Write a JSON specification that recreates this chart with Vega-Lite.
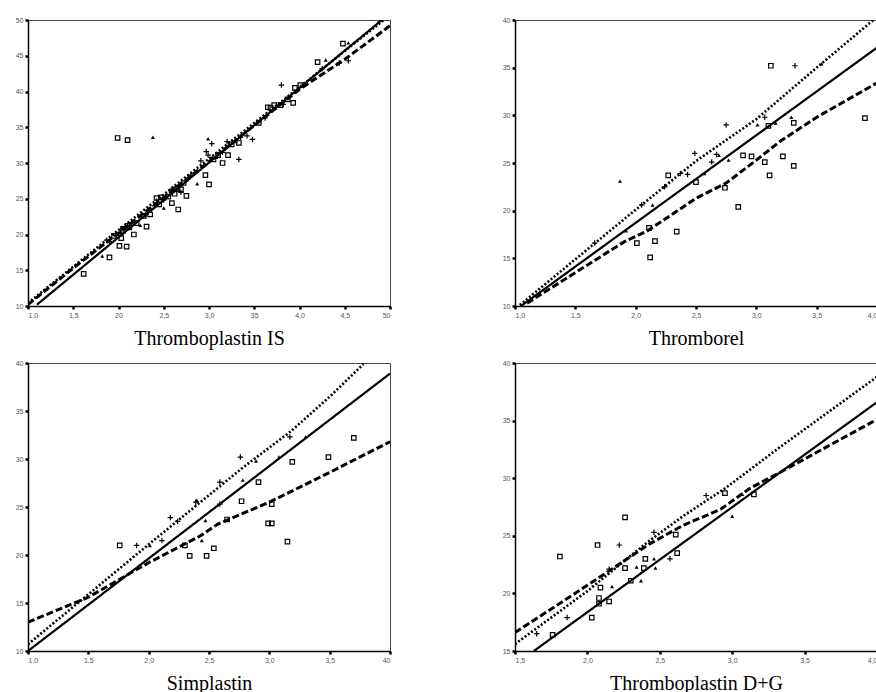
{
  "$schema": "https://vega.github.io/schema/vega-lite/v6.json",
  "background": "white",
  "padding": {"left": 14, "top": 15, "right": 0, "bottom": 0},
  "spacing": 9,
  "config": {
    "view": {"stroke": "#444", "strokeWidth": 1},
    "concat": {"spacing": 109},
    "axis": {"grid": false, "labelFont": "Liberation Sans", "labelFontSize": 7, "labelColor": "#555", "tickColor": "#000", "tickSize": 3, "tickWidth": 2.5, "domainColor": "#000", "domainWidth": 1.5, "labelOverlap": false, "labelPadding": 2, "titleFont": "Liberation Serif", "titleFontSize": 20, "titleFontWeight": "normal", "titleColor": "#000"}
  },
  "datasets": {
    "f1": [
      {"x": 1.1, "y": 10.2, "f": "solid"}, {"x": 4.91, "y": 50, "f": "solid"},
      {"x": 1.0, "y": 10.4, "f": "dotted"}, {"x": 2.0, "y": 20.6, "f": "dotted"}, {"x": 3.0, "y": 30.6, "f": "dotted"}, {"x": 4.0, "y": 40.6, "f": "dotted"}, {"x": 4.93, "y": 50, "f": "dotted"},
      {"x": 1.0, "y": 10.2, "f": "dashed"}, {"x": 1.5, "y": 15.3, "f": "dashed"}, {"x": 2.0, "y": 20.2, "f": "dashed"}, {"x": 3.0, "y": 30.2, "f": "dashed"}, {"x": 4.0, "y": 40.3, "f": "dashed"}, {"x": 4.5, "y": 44.5, "f": "dashed"}, {"x": 5.0, "y": 49.2, "f": "dashed"}
    ],
    "p1": [
      {"x": 1.615, "y": 14.5, "s": "s"}, {"x": 1.9, "y": 16.8, "s": "s"}, {"x": 1.99, "y": 33.5, "s": "s"}, {"x": 2.1, "y": 33.2, "s": "s"}, {"x": 2.01, "y": 18.4, "s": "s"}, {"x": 2.09, "y": 18.3, "s": "s"}, {"x": 2.03, "y": 19.5, "s": "s"}, {"x": 2.05, "y": 20.5, "s": "s"}, {"x": 2.1, "y": 21.2, "s": "s"}, {"x": 2.17, "y": 20.0, "s": "s"}, {"x": 2.31, "y": 21.1, "s": "s"}, {"x": 2.35, "y": 22.8, "s": "s"}, {"x": 2.42, "y": 25.1, "s": "s"}, {"x": 2.47, "y": 25.2, "s": "s"}, {"x": 2.59, "y": 24.4, "s": "s"}, {"x": 2.66, "y": 23.5, "s": "s"}, {"x": 2.62, "y": 25.7, "s": "s"}, {"x": 2.62, "y": 26.3, "s": "s"}, {"x": 2.69, "y": 26.3, "s": "s"}, {"x": 2.75, "y": 25.4, "s": "s"}, {"x": 2.96, "y": 28.3, "s": "s"}, {"x": 3.0, "y": 27.0, "s": "s"}, {"x": 3.15, "y": 30.0, "s": "s"}, {"x": 3.21, "y": 31.1, "s": "s"}, {"x": 3.33, "y": 32.8, "s": "s"}, {"x": 3.68, "y": 37.7, "s": "s"}, {"x": 3.79, "y": 38.1, "s": "s"}, {"x": 3.93, "y": 38.4, "s": "s"}, {"x": 4.01, "y": 40.9, "s": "s"}, {"x": 4.2, "y": 44.1, "s": "s"}, {"x": 4.48, "y": 46.7, "s": "s"},
      {"x": 1.95, "y": 19.8, "s": "s"}, {"x": 2.05, "y": 20.8, "s": "s"}, {"x": 2.12, "y": 21.0, "s": "s"}, {"x": 2.2, "y": 21.6, "s": "s"}, {"x": 2.28, "y": 22.6, "s": "s"}, {"x": 2.45, "y": 24.2, "s": "s"}, {"x": 2.55, "y": 25.3, "s": "s"}, {"x": 2.65, "y": 26.4, "s": "s"}, {"x": 2.72, "y": 27.2, "s": "s"}, {"x": 3.05, "y": 30.5, "s": "s"}, {"x": 3.1, "y": 31.1, "s": "s"}, {"x": 3.25, "y": 32.6, "s": "s"}, {"x": 3.55, "y": 35.6, "s": "s"}, {"x": 3.65, "y": 37.8, "s": "s"}, {"x": 3.72, "y": 38.1, "s": "s"}, {"x": 3.87, "y": 38.9, "s": "s"}, {"x": 3.95, "y": 40.5, "s": "s"},
      {"x": 1.87, "y": 19.2, "s": "p"}, {"x": 2.5, "y": 24.8, "s": "p"}, {"x": 2.69, "y": 25.9, "s": "p"}, {"x": 2.91, "y": 30.3, "s": "p"}, {"x": 2.97, "y": 31.6, "s": "p"}, {"x": 2.99, "y": 31.1, "s": "p"}, {"x": 3.03, "y": 32.7, "s": "p"}, {"x": 3.2, "y": 33.0, "s": "p"}, {"x": 3.35, "y": 33.6, "s": "p"}, {"x": 3.48, "y": 33.3, "s": "p"}, {"x": 3.33, "y": 30.5, "s": "p"}, {"x": 3.8, "y": 40.9, "s": "p"}, {"x": 4.44, "y": 44.0, "s": "p"}, {"x": 4.54, "y": 44.3, "s": "p"},
      {"x": 1.9, "y": 19.0, "s": "p"}, {"x": 2.0, "y": 19.9, "s": "p"}, {"x": 2.1, "y": 21.1, "s": "p"}, {"x": 2.3, "y": 22.8, "s": "p"}, {"x": 2.4, "y": 24.0, "s": "p"}, {"x": 2.58, "y": 26.2, "s": "p"}, {"x": 2.8, "y": 28.3, "s": "p"}, {"x": 3.15, "y": 31.5, "s": "p"}, {"x": 3.42, "y": 33.8, "s": "p"}, {"x": 3.62, "y": 36.3, "s": "p"}, {"x": 3.82, "y": 38.2, "s": "p"}, {"x": 4.25, "y": 43.2, "s": "p"},
      {"x": 1.82, "y": 17.0, "s": "t"}, {"x": 2.38, "y": 33.6, "s": "t"}, {"x": 2.24, "y": 21.3, "s": "t"}, {"x": 2.5, "y": 23.7, "s": "t"}, {"x": 2.87, "y": 27.1, "s": "t"}, {"x": 2.99, "y": 33.4, "s": "t"}, {"x": 4.29, "y": 44.4, "s": "t"}, {"x": 4.54, "y": 46.8, "s": "t"}, {"x": 4.87, "y": 49.7, "s": "t"},
      {"x": 2.02, "y": 20.3, "s": "t"}, {"x": 2.35, "y": 23.3, "s": "t"}, {"x": 2.6, "y": 26.0, "s": "t"}, {"x": 2.75, "y": 27.6, "s": "t"}, {"x": 3.08, "y": 30.8, "s": "t"}, {"x": 3.3, "y": 33.0, "s": "t"}, {"x": 3.75, "y": 38.0, "s": "t"}, {"x": 4.05, "y": 41.0, "s": "t"}
    ],
    "f2": [
      {"x": 1.05, "y": 10.0, "f": "solid"}, {"x": 4.0, "y": 37.1, "f": "solid"},
      {"x": 1.04, "y": 10.1, "f": "dotted"}, {"x": 1.5, "y": 14.9, "f": "dotted"}, {"x": 2.0, "y": 20.1, "f": "dotted"}, {"x": 2.5, "y": 25.2, "f": "dotted"}, {"x": 3.0, "y": 29.6, "f": "dotted"}, {"x": 3.5, "y": 35.0, "f": "dotted"}, {"x": 3.97, "y": 40.0, "f": "dotted"},
      {"x": 1.1, "y": 10.3, "f": "dashed"}, {"x": 1.5, "y": 13.5, "f": "dashed"}, {"x": 1.9, "y": 16.7, "f": "dashed"}, {"x": 2.1, "y": 17.9, "f": "dashed"}, {"x": 2.5, "y": 21.3, "f": "dashed"}, {"x": 2.75, "y": 22.9, "f": "dashed"}, {"x": 3.0, "y": 25.3, "f": "dashed"}, {"x": 3.2, "y": 27.3, "f": "dashed"}, {"x": 3.5, "y": 29.8, "f": "dashed"}, {"x": 4.0, "y": 33.4, "f": "dashed"}
    ],
    "p2": [
      {"x": 2.27, "y": 23.7, "s": "s"}, {"x": 2.01, "y": 16.6, "s": "s"}, {"x": 2.12, "y": 15.1, "s": "s"}, {"x": 2.11, "y": 18.2, "s": "s"}, {"x": 2.16, "y": 16.8, "s": "s"}, {"x": 2.34, "y": 17.8, "s": "s"}, {"x": 2.5, "y": 23.0, "s": "s"}, {"x": 2.74, "y": 22.4, "s": "s"}, {"x": 2.85, "y": 20.4, "s": "s"}, {"x": 2.89, "y": 25.8, "s": "s"}, {"x": 2.96, "y": 25.7, "s": "s"}, {"x": 3.07, "y": 25.1, "s": "s"}, {"x": 3.11, "y": 23.7, "s": "s"}, {"x": 3.1, "y": 28.9, "s": "s"}, {"x": 3.12, "y": 35.2, "s": "s"}, {"x": 3.22, "y": 25.7, "s": "s"}, {"x": 3.31, "y": 24.7, "s": "s"}, {"x": 3.31, "y": 29.2, "s": "s"}, {"x": 3.9, "y": 29.7, "s": "s"},
      {"x": 1.66, "y": 16.6, "s": "p"}, {"x": 2.05, "y": 20.6, "s": "p"}, {"x": 2.24, "y": 22.5, "s": "p"}, {"x": 2.37, "y": 23.9, "s": "p"}, {"x": 2.43, "y": 23.8, "s": "p"}, {"x": 2.49, "y": 26.0, "s": "p"}, {"x": 2.63, "y": 25.1, "s": "p"}, {"x": 2.75, "y": 29.0, "s": "p"}, {"x": 3.07, "y": 29.8, "s": "p"}, {"x": 3.32, "y": 35.2, "s": "p"}, {"x": 2.67, "y": 25.9, "s": "p"},
      {"x": 1.87, "y": 23.1, "s": "t"}, {"x": 2.14, "y": 20.6, "s": "t"}, {"x": 2.57, "y": 23.9, "s": "t"}, {"x": 2.77, "y": 25.3, "s": "t"}, {"x": 3.01, "y": 29.0, "s": "t"}, {"x": 3.29, "y": 29.8, "s": "t"}, {"x": 3.54, "y": 35.4, "s": "t"}, {"x": 1.92, "y": 17.9, "s": "t"}, {"x": 2.69, "y": 25.8, "s": "t"}, {"x": 3.16, "y": 29.2, "s": "t"}
    ],
    "f3": [
      {"x": 1.0, "y": 10.0, "f": "solid"}, {"x": 4.0, "y": 38.9, "f": "solid"},
      {"x": 1.0, "y": 10.7, "f": "dotted"}, {"x": 1.5, "y": 15.9, "f": "dotted"}, {"x": 2.0, "y": 21.1, "f": "dotted"}, {"x": 2.38, "y": 25.0, "f": "dotted"}, {"x": 2.77, "y": 29.0, "f": "dotted"}, {"x": 3.18, "y": 32.9, "f": "dotted"}, {"x": 3.51, "y": 36.6, "f": "dotted"}, {"x": 3.78, "y": 39.9, "f": "dotted"},
      {"x": 1.0, "y": 13.0, "f": "dashed"}, {"x": 1.5, "y": 15.6, "f": "dashed"}, {"x": 2.0, "y": 19.2, "f": "dashed"}, {"x": 2.43, "y": 22.0, "f": "dashed"}, {"x": 2.57, "y": 23.2, "f": "dashed"}, {"x": 3.0, "y": 25.5, "f": "dashed"}, {"x": 3.5, "y": 28.6, "f": "dashed"}, {"x": 4.0, "y": 31.8, "f": "dashed"}
    ],
    "p3": [
      {"x": 1.76, "y": 21.0, "s": "s"}, {"x": 2.34, "y": 19.9, "s": "s"}, {"x": 2.48, "y": 19.9, "s": "s"}, {"x": 2.3, "y": 21.0, "s": "s"}, {"x": 2.54, "y": 20.7, "s": "s"}, {"x": 2.65, "y": 23.7, "s": "s"}, {"x": 2.77, "y": 25.6, "s": "s"}, {"x": 2.91, "y": 27.6, "s": "s"}, {"x": 2.99, "y": 23.3, "s": "s"}, {"x": 3.02, "y": 23.3, "s": "s"}, {"x": 3.02, "y": 25.3, "s": "s"}, {"x": 3.15, "y": 21.4, "s": "s"}, {"x": 3.19, "y": 29.7, "s": "s"}, {"x": 3.49, "y": 30.2, "s": "s"}, {"x": 3.7, "y": 32.2, "s": "s"},
      {"x": 1.9, "y": 21.0, "s": "p"}, {"x": 2.18, "y": 23.9, "s": "p"}, {"x": 2.11, "y": 21.5, "s": "p"}, {"x": 2.59, "y": 25.3, "s": "p"}, {"x": 2.76, "y": 30.2, "s": "p"}, {"x": 2.59, "y": 27.6, "s": "p"}, {"x": 3.17, "y": 32.3, "s": "p"}, {"x": 2.39, "y": 25.5, "s": "p"}, {"x": 2.24, "y": 23.5, "s": "p"},
      {"x": 2.4, "y": 25.7, "s": "t"}, {"x": 2.47, "y": 23.6, "s": "t"}, {"x": 2.44, "y": 21.5, "s": "t"}, {"x": 2.78, "y": 27.8, "s": "t"}, {"x": 2.89, "y": 29.8, "s": "t"}, {"x": 3.3, "y": 32.3, "s": "t"}, {"x": 2.01, "y": 21.0, "s": "t"}, {"x": 3.08, "y": 30.2, "s": "t"}
    ],
    "f4": [
      {"x": 1.63, "y": 15.0, "f": "solid"}, {"x": 4.0, "y": 36.6, "f": "solid"},
      {"x": 1.5, "y": 15.6, "f": "dotted"}, {"x": 2.0, "y": 20.2, "f": "dotted"}, {"x": 2.41, "y": 24.4, "f": "dotted"}, {"x": 2.66, "y": 26.7, "f": "dotted"}, {"x": 2.96, "y": 29.2, "f": "dotted"}, {"x": 3.33, "y": 32.7, "f": "dotted"}, {"x": 4.0, "y": 38.8, "f": "dotted"},
      {"x": 1.5, "y": 16.6, "f": "dashed"}, {"x": 2.0, "y": 20.7, "f": "dashed"}, {"x": 2.43, "y": 24.3, "f": "dashed"}, {"x": 2.66, "y": 25.9, "f": "dashed"}, {"x": 2.92, "y": 27.3, "f": "dashed"}, {"x": 3.12, "y": 29.1, "f": "dashed"}, {"x": 3.33, "y": 30.5, "f": "dashed"}, {"x": 3.65, "y": 32.7, "f": "dashed"}, {"x": 4.0, "y": 35.1, "f": "dashed"}
    ],
    "p4": [
      {"x": 1.81, "y": 23.2, "s": "s"}, {"x": 2.07, "y": 24.2, "s": "s"}, {"x": 2.26, "y": 26.6, "s": "s"}, {"x": 1.76, "y": 16.4, "s": "s"}, {"x": 2.03, "y": 17.9, "s": "s"}, {"x": 2.08, "y": 19.6, "s": "s"}, {"x": 2.08, "y": 19.1, "s": "s"}, {"x": 2.09, "y": 20.5, "s": "s"}, {"x": 2.15, "y": 19.3, "s": "s"}, {"x": 2.26, "y": 22.2, "s": "s"}, {"x": 2.3, "y": 21.1, "s": "s"}, {"x": 2.39, "y": 22.2, "s": "s"}, {"x": 2.4, "y": 23.0, "s": "s"}, {"x": 2.61, "y": 25.1, "s": "s"}, {"x": 2.62, "y": 23.5, "s": "s"}, {"x": 2.95, "y": 28.7, "s": "s"}, {"x": 3.15, "y": 28.6, "s": "s"},
      {"x": 1.86, "y": 17.9, "s": "p"}, {"x": 2.15, "y": 22.1, "s": "p"}, {"x": 2.22, "y": 24.2, "s": "p"}, {"x": 2.46, "y": 25.3, "s": "p"}, {"x": 2.82, "y": 28.5, "s": "p"}, {"x": 2.57, "y": 23.0, "s": "p"}, {"x": 1.65, "y": 16.5, "s": "p"},
      {"x": 2.17, "y": 20.6, "s": "t"}, {"x": 2.37, "y": 21.1, "s": "t"}, {"x": 2.47, "y": 22.2, "s": "t"}, {"x": 2.34, "y": 22.3, "s": "t"}, {"x": 3.0, "y": 26.7, "s": "t"}, {"x": 3.07, "y": 28.6, "s": "t"}, {"x": 2.46, "y": 23.0, "s": "t"}
    ]
  },
  "vconcat": [
    {"hconcat": [
      {"width": 362, "height": 286,
       "encoding": {
         "x": {"field": "x", "type": "quantitative", "scale": {"domain": [1, 5], "nice": false, "zero": false}, "axis": {"values": [1, 1.5, 2, 2.5, 3, 3.5, 4, 4.5, 5], "labelExpr": "datum.value == 2 ? '20' : datum.value == 3.5 ? '35' : datum.value == 5 ? '50' : replace(format(datum.value, '.1f'), '.', ',')", "title": "Thromboplastin IS", "titlePadding": 10}},
         "y": {"field": "y", "type": "quantitative", "scale": {"domain": [10, 50], "nice": false, "zero": false}, "axis": {"values": [10, 15, 20, 25, 30, 35, 40, 45, 50], "format": "d", "title": null}}
       },
       "layer": [
         {"data": {"name": "f1"}, "mark": {"type": "line", "clip": true, "color": "#000"}, "encoding": {"strokeDash": {"field": "f", "type": "nominal", "scale": {"domain": ["solid", "dotted", "dashed"], "range": [[1, 0], [2, 2], [7, 3]]}, "legend": null}, "strokeWidth": {"field": "f", "type": "nominal", "scale": {"domain": ["solid", "dotted", "dashed"], "range": [2.2, 3, 2.6]}, "legend": null}}},
         {"data": {"name": "p1"}, "transform": [{"filter": "datum.s == 's'"}], "mark": {"type": "point", "shape": "square", "filled": false, "size": 20, "color": "#000", "strokeWidth": 1.2, "opacity": 1}},
         {"data": {"name": "p1"}, "transform": [{"filter": "datum.s == 'p'"}], "mark": {"type": "point", "shape": "M-1,0H1M0,-1V1", "filled": false, "size": 30, "color": "#000", "strokeWidth": 1.2, "opacity": 1}},
         {"data": {"name": "p1"}, "transform": [{"filter": "datum.s == 't'"}], "mark": {"type": "point", "shape": "triangle-up", "filled": true, "size": 16, "color": "#000", "opacity": 1}}
       ]},
      {"width": 362, "height": 286,
       "encoding": {
         "x": {"field": "x", "type": "quantitative", "scale": {"domain": [1, 4], "nice": false, "zero": false}, "axis": {"values": [1, 1.5, 2, 2.5, 3, 3.5, 4], "labelExpr": "datum.value == 1.5 ? '1.5' : replace(format(datum.value, '.1f'), '.', ',')", "title": "Thromborel", "titlePadding": 10}},
         "y": {"field": "y", "type": "quantitative", "scale": {"domain": [10, 40], "nice": false, "zero": false}, "axis": {"values": [10, 15, 20, 25, 30, 35, 40], "format": "d", "title": null}}
       },
       "layer": [
         {"data": {"name": "f2"}, "mark": {"type": "line", "clip": true, "color": "#000"}, "encoding": {"strokeDash": {"field": "f", "type": "nominal", "scale": {"domain": ["solid", "dotted", "dashed"], "range": [[1, 0], [2, 2], [7, 3]]}, "legend": null}, "strokeWidth": {"field": "f", "type": "nominal", "scale": {"domain": ["solid", "dotted", "dashed"], "range": [2.2, 3, 2.6]}, "legend": null}}},
         {"data": {"name": "p2"}, "transform": [{"filter": "datum.s == 's'"}], "mark": {"type": "point", "shape": "square", "filled": false, "size": 20, "color": "#000", "strokeWidth": 1.2, "opacity": 1}},
         {"data": {"name": "p2"}, "transform": [{"filter": "datum.s == 'p'"}], "mark": {"type": "point", "shape": "M-1,0H1M0,-1V1", "filled": false, "size": 30, "color": "#000", "strokeWidth": 1.2, "opacity": 1}},
         {"data": {"name": "p2"}, "transform": [{"filter": "datum.s == 't'"}], "mark": {"type": "point", "shape": "triangle-up", "filled": true, "size": 16, "color": "#000", "opacity": 1}}
       ]}
    ]},
    {"hconcat": [
      {"width": 362, "height": 288,
       "encoding": {
         "x": {"field": "x", "type": "quantitative", "scale": {"domain": [1, 4], "nice": false, "zero": false}, "axis": {"values": [1, 1.5, 2, 2.5, 3, 3.5, 4], "labelExpr": "datum.value == 1.5 ? '1.5' : datum.value == 4 ? '40' : replace(format(datum.value, '.1f'), '.', ',')", "title": "Simplastin", "titlePadding": 10}},
         "y": {"field": "y", "type": "quantitative", "scale": {"domain": [10, 40], "nice": false, "zero": false}, "axis": {"values": [10, 15, 20, 25, 30, 35, 40], "format": "d", "title": null}}
       },
       "layer": [
         {"data": {"name": "f3"}, "mark": {"type": "line", "clip": true, "color": "#000"}, "encoding": {"strokeDash": {"field": "f", "type": "nominal", "scale": {"domain": ["solid", "dotted", "dashed"], "range": [[1, 0], [2, 2], [7, 3]]}, "legend": null}, "strokeWidth": {"field": "f", "type": "nominal", "scale": {"domain": ["solid", "dotted", "dashed"], "range": [2.2, 3, 2.6]}, "legend": null}}},
         {"data": {"name": "p3"}, "transform": [{"filter": "datum.s == 's'"}], "mark": {"type": "point", "shape": "square", "filled": false, "size": 20, "color": "#000", "strokeWidth": 1.2, "opacity": 1}},
         {"data": {"name": "p3"}, "transform": [{"filter": "datum.s == 'p'"}], "mark": {"type": "point", "shape": "M-1,0H1M0,-1V1", "filled": false, "size": 30, "color": "#000", "strokeWidth": 1.2, "opacity": 1}},
         {"data": {"name": "p3"}, "transform": [{"filter": "datum.s == 't'"}], "mark": {"type": "point", "shape": "triangle-up", "filled": true, "size": 16, "color": "#000", "opacity": 1}}
       ]},
      {"width": 362, "height": 288,
       "encoding": {
         "x": {"field": "x", "type": "quantitative", "scale": {"domain": [1.5, 4], "nice": false, "zero": false}, "axis": {"values": [1.5, 2, 2.5, 3, 3.5, 4], "labelExpr": "replace(format(datum.value, '.1f'), '.', ',')", "title": "Thromboplastin D+G", "titlePadding": 10}},
         "y": {"field": "y", "type": "quantitative", "scale": {"domain": [15, 40], "nice": false, "zero": false}, "axis": {"values": [15, 20, 25, 30, 35, 40], "format": "d", "title": null}}
       },
       "layer": [
         {"data": {"name": "f4"}, "mark": {"type": "line", "clip": true, "color": "#000"}, "encoding": {"strokeDash": {"field": "f", "type": "nominal", "scale": {"domain": ["solid", "dotted", "dashed"], "range": [[1, 0], [2, 2], [7, 3]]}, "legend": null}, "strokeWidth": {"field": "f", "type": "nominal", "scale": {"domain": ["solid", "dotted", "dashed"], "range": [2.2, 3, 2.6]}, "legend": null}}},
         {"data": {"name": "p4"}, "transform": [{"filter": "datum.s == 's'"}], "mark": {"type": "point", "shape": "square", "filled": false, "size": 20, "color": "#000", "strokeWidth": 1.2, "opacity": 1}},
         {"data": {"name": "p4"}, "transform": [{"filter": "datum.s == 'p'"}], "mark": {"type": "point", "shape": "M-1,0H1M0,-1V1", "filled": false, "size": 30, "color": "#000", "strokeWidth": 1.2, "opacity": 1}},
         {"data": {"name": "p4"}, "transform": [{"filter": "datum.s == 't'"}], "mark": {"type": "point", "shape": "triangle-up", "filled": true, "size": 16, "color": "#000", "opacity": 1}}
       ]}
    ]}
  ]
}
